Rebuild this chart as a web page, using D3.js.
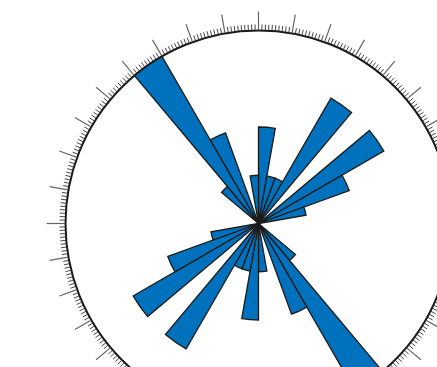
<!DOCTYPE html>
<html>
<head>
<meta charset="utf-8">
<script src="https://cdn.jsdelivr.net/npm/d3@7"></script>
<style>
  html, body { margin: 0; padding: 0; background: #fff; overflow: hidden; }
  svg { display: block; }
</style>
</head>
<body>
<svg id="rose" width="437" height="367"></svg>
<script>
// Rose diagram: 10-degree direction bins (compass degrees, clockwise from north)
const binStarts = d3.range(0, 360, 10);
const binCounts = [
  2, 1, 1, 3, 0, 3, 2, 1, 0, 0, 0, 0, 0, 1, 4, 2, 0, 1,
  2, 1, 1, 3, 0, 3, 2, 1, 0, 0, 0, 0, 0, 1, 4, 2, 0, 1
];
const binWidth = 10;
const countMax = 4;
const majorTickStep = 10;
const minorTickStep = 1;

const svg = d3.select("#rose");
const cx = 258.5, cy = 223.5, R = 193;
const g = svg.append("g").attr("transform", `translate(${cx},${cy})`);

const rScale = d3.scaleLinear().domain([0, countMax]).range([0, R]);
const toRad = d => d * Math.PI / 180;

// outer ring
g.append("circle")
  .attr("r", R)
  .attr("fill", "none")
  .attr("stroke", "#1a1a1a")
  .attr("stroke-width", 2);

// ticks around the ring
const ticks = d3.range(0, 360, minorTickStep);
g.append("g").selectAll("line")
  .data(ticks)
  .join("line")
  .each(function(d) {
    const major = d % majorTickStep === 0;
    const a = toRad(d);
    const r0 = R + 0.5, r1 = major ? R + 19 : R + 6;
    d3.select(this)
      .attr("x1", r0 * Math.sin(a)).attr("y1", -r0 * Math.cos(a))
      .attr("x2", r1 * Math.sin(a)).attr("y2", -r1 * Math.cos(a))
      .attr("stroke", major ? "#666" : "#333")
      .attr("stroke-width", major ? 1.2 : 0.9);
  });

// petals
const arc = d3.arc().innerRadius(0);
const bins = binStarts.map((s, i) => ({ start: s, count: binCounts[i] }))
  .filter(b => b.count > 0);

g.append("g").selectAll("path")
  .data(bins)
  .join("path")
  .attr("d", b => arc({
    outerRadius: rScale(b.count),
    startAngle: toRad(b.start),
    endAngle: toRad(b.start + binWidth)
  }))
  .attr("fill", "#0072bd")
  .attr("stroke", "#1a1a1a")
  .attr("stroke-width", 1.3)
  .attr("stroke-linejoin", "miter");
</script>
</body>
</html>
